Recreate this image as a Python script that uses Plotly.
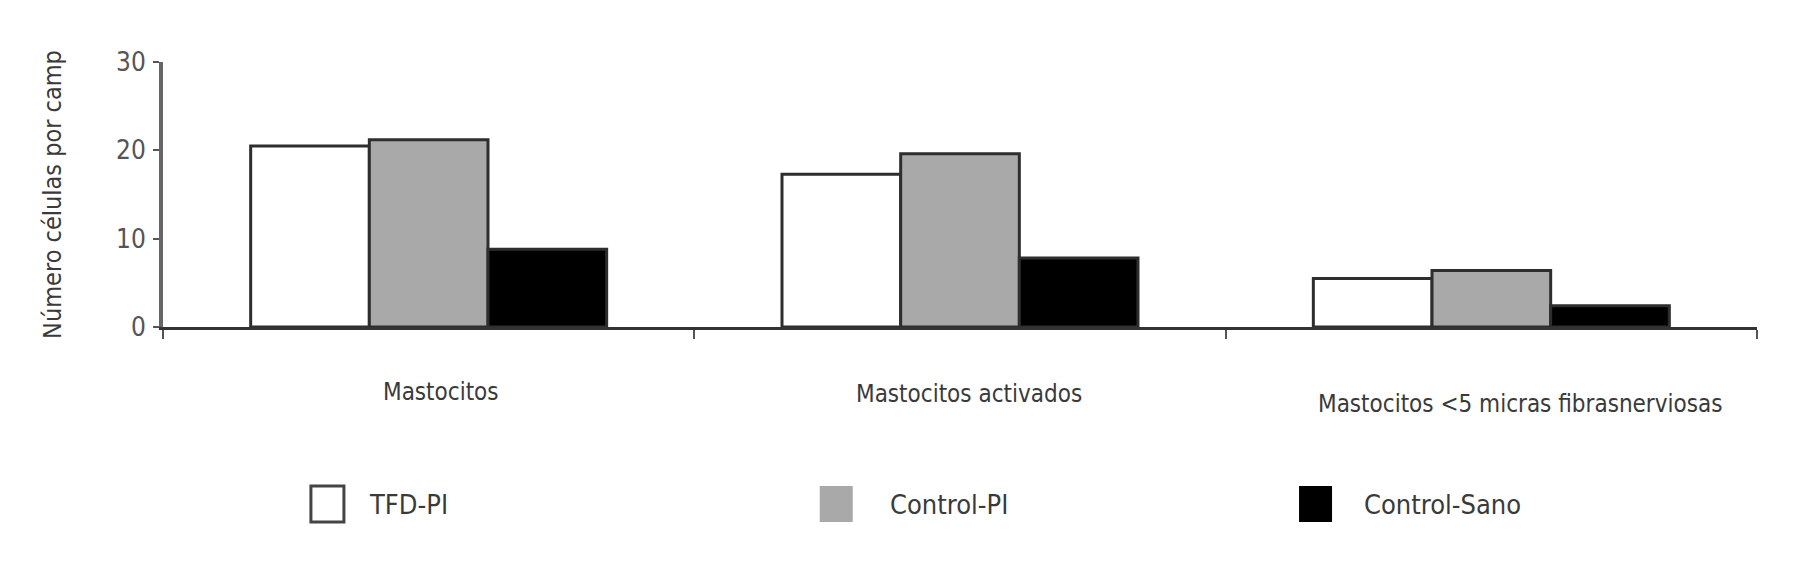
import plotly.graph_objects as go

# Data
categories = ["Mastocitos", "Mastocitos activados", "Mastocitos <5 micras fibrasnerviosas"]
series_names = ["TFD-PI", "Control-PI", "Control-Sano"]
tfd_pi = [20.5, 17.3, 5.5]
control_pi = [21.2, 19.6, 6.4]
control_sano = [8.8, 7.8, 2.4]
y_ticks = [0, 10, 20, 30]
y_title = "Número células por camp"

series_values = [tfd_pi, control_pi, control_sano]

# Styles
FONT = "Liberation Sans Narrow, DejaVu Sans Condensed, Arial Narrow, sans-serif"
TEXT = "#3a3a3a"
fills = ["#ffffff", "#a9a9a9", "#000000"]
legend_lines = ["#444444", "#a9a9a9", "#000000"]
legend_line_widths = [3, 0, 0]

fig = go.Figure()

for name, vals, fill in zip(series_names, series_values, fills):
    fig.add_trace(go.Bar(
        name=name,
        x=categories,
        y=vals,
        marker=dict(color=fill, line=dict(color="#2e2e2e", width=3)),
        showlegend=False,
    ))

# page body adds 8px around the figure, so the figure is a bit smaller
fig.update_layout(
    width=1788,
    height=546,
    barmode="group",
    bargap=0.33,
    bargroupgap=0,
    plot_bgcolor="white",
    paper_bgcolor="white",
    margin=dict(l=155, r=39, t=54, b=227),
    font=dict(family=FONT, size=26, color=TEXT),
)

fig.update_xaxes(
    showline=True, linecolor="#333333", linewidth=3,
    ticks="outside", tickson="boundaries", ticklen=9, tickcolor="#555555", tickwidth=2,
    showticklabels=False, showgrid=False, range=[-0.5, 2.5],
)
fig.update_yaxes(
    range=[0, 30], tickvals=y_ticks,
    showline=True, linecolor="#666666", linewidth=4,
    ticks="outside", ticklen=6, tickcolor="#555555", tickwidth=2,
    ticklabelstandoff=2, showgrid=False, zeroline=False,
    tickfont=dict(size=26, color="#555555"),
    title=dict(text=y_title, standoff=48, font=dict(size=25, color=TEXT)),
)

# category labels below the axis
x_shifts = [12, 9, 29]
y_shifts = [-65, -67, -77]
for cat, dx, dy in zip(categories, x_shifts, y_shifts):
    fig.add_annotation(
        x=cat, y=0, xref="x", yref="y", text=cat.replace("<", "&lt;"),
        showarrow=False, xshift=dx, yshift=dy, font=dict(size=24, color=TEXT),
    )

# legend drawn below the chart
legend_x = [0.0928, 0.412, 0.7127]
text_shift = [56, 68, 63]
legend_y = -0.668
for name, fill, lc, lw, lx, ts in zip(series_names, fills, legend_lines,
                                       legend_line_widths, legend_x, text_shift):
    fig.add_shape(
        type="rect", xref="paper", yref="paper",
        xsizemode="pixel", ysizemode="pixel",
        xanchor=lx, yanchor=legend_y,
        x0=0, x1=33, y0=-18, y1=18,
        fillcolor=fill, line=dict(color=lc, width=lw),
    )
    fig.add_annotation(
        x=lx, y=legend_y, xref="paper", yref="paper", text=name,
        xanchor="left", yanchor="middle", xshift=ts, showarrow=False,
        font=dict(size=27, color=TEXT),
    )

fig.write_html("out.html")
